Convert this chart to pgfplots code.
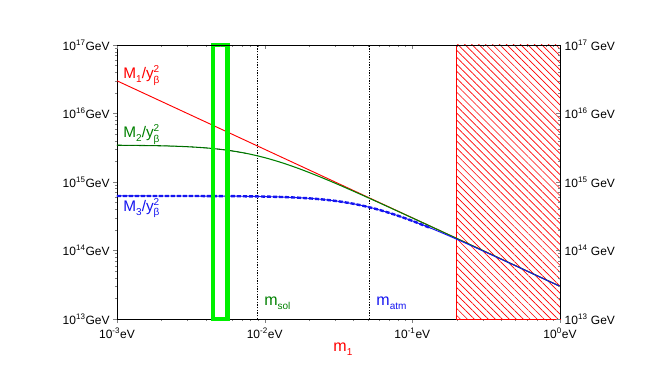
\documentclass[border=0pt]{standalone}
\usepackage{pgfplots}
\pgfplotsset{compat=1.18}
\usepackage{fontspec}
\setmainfont{Liberation Sans}
\usetikzlibrary{patterns.meta}
\definecolor{dgreen}{RGB}{0,128,0}
\definecolor{bgreen}{RGB}{0,240,0}
\definecolor{mblue}{RGB}{20,20,240}
\newcommand{\yb}{y\rlap{\raisebox{-3.6pt}{\fontsize{7.5}{8}\selectfont β}}\raisebox{4.6pt}{\fontsize{7.5}{8}\selectfont 2}}
\newcommand{\sub}[1]{\raisebox{-3pt}{\fontsize{7.5}{8}\selectfont #1}}
\begin{document}
\begin{tikzpicture}
\useasboundingbox (-87.75pt,-47.25pt) rectangle (402.75pt,239.25pt);
\begin{axis}[
  at={(0,0)}, anchor=south west,
  scale only axis, width=332.25pt, height=205.5pt,
  xmode=log, ymode=log,
  xmin=1e-3, xmax=1, ymin=1e13, ymax=1e17,
  xtick={1e-3,1e-2,1e-1,1},
  xticklabels={10\textsuperscript{-3}eV,10\textsuperscript{-2}eV,10\textsuperscript{-1}eV,10\textsuperscript{0}eV},
  ytick={1e13,1e14,1e15,1e16,1e17},
  yticklabels={10\textsuperscript{13}GeV,10\textsuperscript{14}GeV,10\textsuperscript{15}GeV,10\textsuperscript{16}GeV,10\textsuperscript{17}GeV},
  xtick pos=bottom, ytick pos=left,
  tick align=outside,
  major tick length=3pt, minor tick length=1.6pt,
  tick label style={font=\fontsize{9}{10}\selectfont},
  yticklabel style={xshift=1pt},
  clip=false,
  axis line style={line width=0.6pt},
]
% hatched excluded region
\addplot[draw=red, line width=0.6pt, pattern={Lines[angle=-45,distance=3.7pt,line width=0.5pt]}, pattern color=red]
  coordinates {(0.2,1e13) (0.2,1e17) (1,1e17) (1,1e13)} -- cycle;
% dotted vertical lines
\addplot[black, line width=0.5pt, dash pattern=on 1pt off 1pt] coordinates {(0.0089,1e13) (0.0089,1e17)};
\addplot[black, line width=0.5pt, dash pattern=on 1pt off 1pt] coordinates {(0.051,1e13) (0.051,1e17)};
% M1
\addplot[red, line width=0.7pt] coordinates {(0.001,3e16) (1,3e13)};
% M2
\addplot[dgreen, line width=0.8pt, smooth] coordinates {
(0.001,3.441e15) (0.001778,3.393e15) (0.002371,3.341e15) (0.003162,3.254e15)
(0.004217,3.115e15) (0.005623,2.905e15) (0.0075,2.619e15) (0.01,2.268e15)
(0.01334,1.887e15) (0.01778,1.517e15) (0.02371,1.188e15) (0.03162,9.150e14)
(0.04217,6.969e14) (0.05623,5.273e14) (0.075,3.974e14) (0.1,2.989e14)
(0.1334,2.245e14) (0.1778,1.6855e14) (0.2371,1.265e14) (0.3162,9.487e13)
(0.4217,7.114e13) (0.5623,5.335e13) (0.75,4.0e13) (1,3.0e13)};
\addplot[green!30!black, line width=0.4pt, dash pattern=on 3pt off 2pt, smooth] coordinates {
(0.001,3.441e15) (0.001778,3.393e15) (0.002371,3.341e15) (0.003162,3.254e15)
(0.004217,3.115e15) (0.005623,2.905e15) (0.0075,2.619e15)};
% M3
\addplot[mblue, line width=0.7pt, smooth] coordinates {
(0.001,6.254e14) (0.001778,6.251e14) (0.003162,6.242e14) (0.005623,6.213e14)
(0.0075,6.180e14) (0.01,6.124e14) (0.01334,6.027e14) (0.01778,5.865e14)
(0.02371,5.607e14) (0.03162,5.222e14) (0.04217,4.698e14) (0.05623,4.059e14)
(0.075,3.370e14) (0.1,2.705e14) (0.1334,2.117e14) (0.1778,1.629e14)
(0.2371,1.240e14) (0.3162,9.380e13) (0.4217,7.068e13) (0.5623,5.315e13) (1,2.997e13)};
\addplot[mblue, line width=1.8pt, dash pattern=on 3pt off 1.5pt, smooth] coordinates {
(0.001,6.254e14) (0.001778,6.251e14) (0.003162,6.242e14) (0.005623,6.213e14)
(0.0075,6.180e14) (0.01,6.124e14) (0.01334,6.027e14) (0.01778,5.865e14)
(0.02371,5.607e14) (0.03162,5.222e14) (0.04217,4.698e14) (0.05623,4.059e14)
(0.075,3.370e14) (0.1,2.705e14) (0.1334,2.117e14)};
% green box
\addplot[bgreen, line width=3.6pt] coordinates {(0.00447,1e13) (0.00447,1e17) (0.00562,1e17) (0.00562,1e13)} -- cycle;
% labels
\node[red, anchor=west, font=\fontsize{11.5}{13}\selectfont] at (rel axis cs:0.004,0.89) {M\sub{1}/\yb};
\node[dgreen, anchor=west, font=\fontsize{11.5}{13}\selectfont] at (rel axis cs:0.004,0.672) {M\sub{2}/\yb};
\node[mblue, anchor=west, font=\fontsize{11.5}{13}\selectfont] at (rel axis cs:0.004,0.405) {M\sub{3}/\yb};
\node[dgreen, anchor=west, font=\fontsize{12}{13}\selectfont] at (rel axis cs:0.322,0.058) {m\sub{sol}};
\node[mblue, anchor=west, font=\fontsize{12}{13}\selectfont] at (rel axis cs:0.575,0.058) {m\sub{atm}};
\node[red, font=\fontsize{12}{13}\selectfont] at (rel axis cs:0.51,0) [yshift=-23pt] {m\sub{1}};
\end{axis}
\begin{axis}[
  at={(0,0)}, anchor=south west,
  scale only axis, width=332.25pt, height=205.5pt,
  xmode=log, ymode=log,
  xmin=1e-3, xmax=1, ymin=1e13, ymax=1e17,
  axis x line*=top, axis y line*=right,
  xtick={1e-3,1e-2,1e-1,1}, xticklabels={},
  ytick={1e13,1e14,1e15,1e16,1e17},
  yticklabels={10\textsuperscript{13} GeV,10\textsuperscript{14} GeV,10\textsuperscript{15} GeV,10\textsuperscript{16} GeV,10\textsuperscript{17} GeV},
  tick align=inside,
  major tick length=3pt, minor tick length=1.6pt,
  tick label style={font=\fontsize{9}{10}\selectfont},
  axis line style={line width=0.6pt},
]
\end{axis}
\end{tikzpicture}
\end{document}
